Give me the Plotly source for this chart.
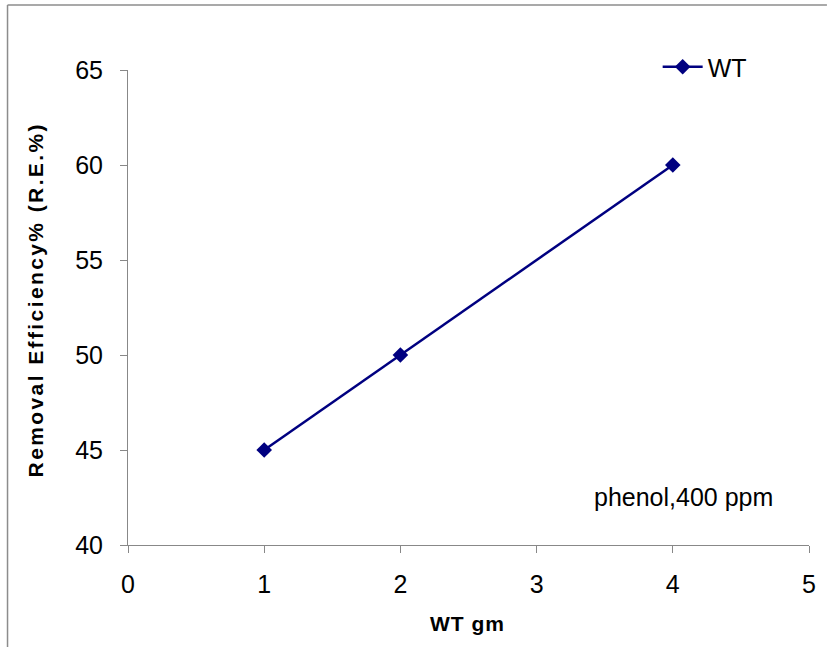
import plotly.graph_objects as go

# Removal efficiency of phenol vs. adsorbent weight
wt_gm = [1, 2, 4]
removal_eff = [45, 50, 60]
series_name = "WT"
x_ticks = [0, 1, 2, 3, 4, 5]
y_ticks = [40, 45, 50, 55, 60, 65]

W, H = 828, 647
ML, MR, MT, MB = 128, 16, 70, 102
PW, PH = W - ML - MR, H - MT - MB

def px_x(p):
    return (p - ML) / PW

def px_y(p):
    return (H - MB - p) / PH

navy = "#000080"
axis_gray = "#888888"
font = "Liberation Sans, Arial, sans-serif"

def spaced_bold(text, spacing):
    return f'<span style="letter-spacing:{spacing}px"><b>{text}</b></span>'

fig = go.Figure()
fig.add_trace(go.Scatter(
    x=wt_gm, y=removal_eff, name=series_name,
    mode="lines+markers",
    line=dict(color=navy, width=2.5, shape="spline", smoothing=0.6),
    marker=dict(symbol="diamond", size=12, color=navy),
))

fig.update_layout(
    width=W, height=H,
    margin=dict(l=ML, r=MR, t=MT, b=MB),
    paper_bgcolor="white", plot_bgcolor="white",
    font=dict(family=font, color="black"),
    showlegend=True,
    legend=dict(
        x=px_x(660), y=px_y(44), xanchor="left", yanchor="top",
        bgcolor="rgba(0,0,0,0)", font=dict(size=25, family=font),
        itemwidth=40,
    ),
    xaxis=dict(
        range=[0, 5], tickvals=x_ticks, showgrid=False, zeroline=False,
        showline=True, linecolor=axis_gray, linewidth=1,
        ticks="outside", ticklen=7, tickcolor=axis_gray,
        tickfont=dict(size=25), ticklabelstandoff=10,
    ),
    yaxis=dict(
        range=[40, 65], tickvals=y_ticks, showgrid=False, zeroline=False,
        showline=True, linecolor=axis_gray, linewidth=1,
        ticks="outside", ticklen=7, tickcolor=axis_gray,
        tickfont=dict(size=25), ticklabelstandoff=12,
    ),
    annotations=[
        dict(text="phenol,400 ppm", x=px_x(686), y=px_y(497),
             xref="paper", yref="paper", showarrow=False,
             font=dict(size=25, family=font), xanchor="center", yanchor="middle"),
        dict(text=spaced_bold("WT gm", 1), x=px_x(469), y=px_y(623),
             xref="paper", yref="paper", showarrow=False,
             font=dict(size=21, family=font), xanchor="center", yanchor="middle"),
        dict(text=spaced_bold("Removal Efficiency% (R.E.%)", 2.4), x=px_x(35), y=px_y(300),
             xref="paper", yref="paper", showarrow=False, textangle=-90,
             font=dict(size=21, family=font), xanchor="center", yanchor="middle"),
    ],
    shapes=[
        dict(type="line", xref="paper", yref="paper",
             x0=px_x(7), x1=px_x(W + 2), y0=px_y(5), y1=px_y(5),
             line=dict(color="#8c8c8c", width=1.5)),
        dict(type="line", xref="paper", yref="paper",
             x0=px_x(7), x1=px_x(7), y0=px_y(5), y1=px_y(H + 2),
             line=dict(color="#8c8c8c", width=1.5)),
    ],
)

fig.write_html("out.html")
